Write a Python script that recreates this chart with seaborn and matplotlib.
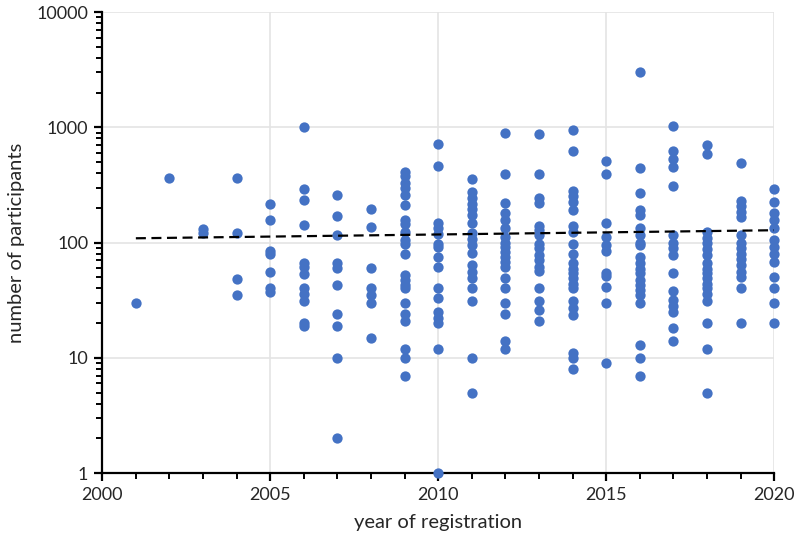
import numpy as np
import pandas as pd
import matplotlib
matplotlib.use("Agg")
import matplotlib.pyplot as plt
import matplotlib.ticker as mticker
import seaborn as sns

# participants per registration year
y2001 = [30]
y2002 = [360]
y2003 = [132, 120]
y2004 = [360, 120, 48, 35]
y2005 = [215, 158, 85, 80, 56, 40, 37]
y2006 = [1000, 290, 235, 142, 67, 62, 53, 40, 36, 31, 20, 19]
y2007 = [257, 171, 116, 66, 60, 43, 24, 19, 10, 2]
y2008 = [195, 137, 60, 40, 35, 30, 15]
y2009 = [410, 375, 330, 295, 260, 210, 157, 144, 124, 105, 98, 80, 52, 47,
         43, 40, 30, 24, 21, 12, 10, 7]
y2010 = [710, 460, 147, 133, 118, 98, 92, 75, 62, 40, 33, 25, 22, 20, 12, 1]
y2011 = [357, 274, 242, 216, 195, 173, 147, 120, 108, 95, 81, 64, 56, 49,
         40, 31, 10, 5]
y2012 = [895, 393, 219, 179, 157, 133, 112, 100, 92, 83, 75, 68, 61, 49,
         40, 30, 24, 14, 12]
y2013 = [877, 395, 245, 219, 140, 128, 116, 98, 89, 78, 70, 62, 57, 40,
         31, 26, 21]
y2014 = [957, 620, 281, 256, 227, 191, 140, 124, 98, 79, 66, 59, 54, 49,
         44, 40, 31, 27, 23.5, 11, 10, 8]
y2015 = [507, 395, 147, 112, 95, 84, 54, 51, 41, 30, 9]
y2016 = [2990, 442, 268, 191, 173, 133, 116, 100, 96, 75, 66, 59, 54, 47,
         43, 39, 35, 30, 13, 10, 7]
y2017 = [1023, 628, 535, 452, 310, 116, 100, 90, 78, 54, 38, 32, 28, 25,
         18, 14]
y2018 = [698, 587, 124, 110, 100, 88, 78, 66, 59, 54, 49, 44, 40, 36, 31,
         20, 12, 5]
y2019 = [490, 231, 208, 185, 168, 116, 100, 89, 80, 72, 64, 56, 50, 40, 20]
y2020 = [292, 227, 182, 157, 135, 105, 92, 80, 68, 50, 40, 30, 20]

years = list(range(2001, 2021))
per_year = [y2001, y2002, y2003, y2004, y2005, y2006, y2007, y2008, y2009,
            y2010, y2011, y2012, y2013, y2014, y2015, y2016, y2017, y2018,
            y2019, y2020]

# dashed exponential trendline, end points
trend_years = [2001, 2020]
trend_values = [109, 128]

y_ticks = [1, 10, 100, 1000, 10000]
x_ticks = [2000, 2005, 2010, 2015, 2020]

rows = [(yr, v) for yr, vals in zip(years, per_year) for v in vals]
df = pd.DataFrame(rows, columns=["year", "participants"])
trend = pd.DataFrame({"year": trend_years, "fit": trend_values})

sns.set_style("white")
plt.rcParams["font.family"] = ["Lato", "DejaVu Sans"]

fig = plt.figure(figsize=(7.99, 5.47), dpi=100)
ax = fig.add_axes([0.128, 0.135, 0.841, 0.843])

ax.set_yscale("log")
ax.set_xlim(2000, 2020)
ax.set_ylim(1, 10000)

sns.scatterplot(data=df, x="year", y="participants", ax=ax, color="#4472C4",
                s=55, linewidth=0, clip_on=False, zorder=3, legend=False)
sns.lineplot(data=trend, x="year", y="fit", ax=ax, color="black",
             linewidth=1.6, zorder=4)
ax.lines[-1].set_dashes((4.5, 2.5))

ax.grid(True, which="major", color="#e4e4e4", linewidth=1.2)
ax.set_axisbelow(True)
for s in ["top", "right"]:
    ax.spines[s].set_visible(False)
for s in ["left", "bottom"]:
    ax.spines[s].set_linewidth(1.6)
    ax.spines[s].set_color("black")

ax.set_xticks(x_ticks)
ax.xaxis.set_minor_locator(mticker.MultipleLocator(1))
ax.set_yticks(y_ticks)
ax.yaxis.set_major_formatter(mticker.FixedFormatter([str(t) for t in y_ticks]))
ax.yaxis.set_minor_locator(mticker.LogLocator(base=10, subs=np.arange(2, 10)))
ax.yaxis.set_minor_formatter(mticker.NullFormatter())
ax.tick_params(axis="both", which="both", bottom=True, left=True,
               direction="out", color="black")
ax.tick_params(axis="both", which="major", length=6, width=1.6,
               labelsize=13, pad=4)
ax.tick_params(axis="both", which="minor", length=4, width=1.4)

ax.set_xlabel("year of registration", fontsize=14.5, labelpad=8)
ax.set_ylabel("number of participants", fontsize=14.5, labelpad=8)

fig.savefig("out.png", dpi=100)
